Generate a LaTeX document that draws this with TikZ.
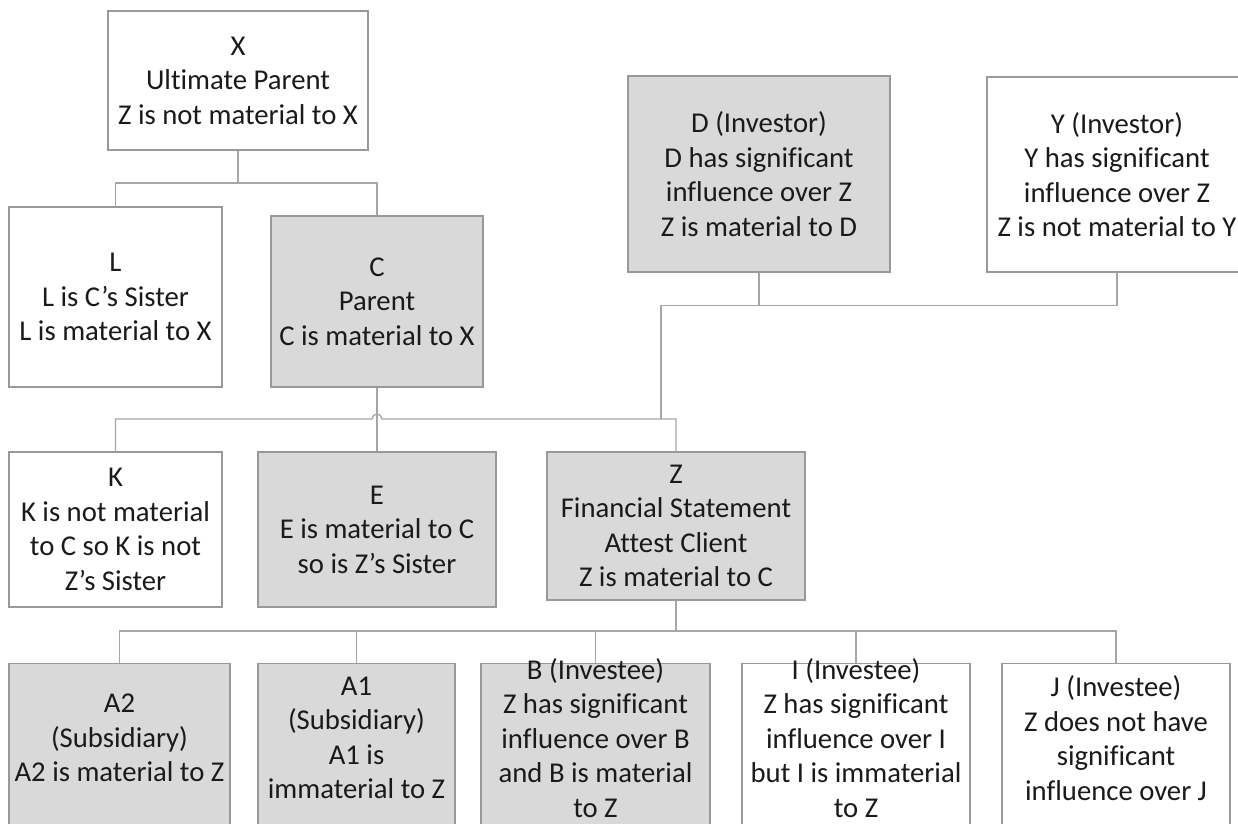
\documentclass[tikz,border=0pt]{standalone}
\usepackage{fontspec}
\setmainfont{Carlito}[Ligatures=NoCommon]

\definecolor{keygray}{HTML}{D9D9D9}
\definecolor{boxline}{HTML}{999999}
\definecolor{linkgray}{HTML}{A6A6A6}
\definecolor{inkblack}{HTML}{1A1A1A}

\tikzset{
  entity/.style={draw=boxline, line width=1.3pt, fill=white, align=center, text=inkblack,
    font=\fontsize{28.7}{34.5}\selectfont, inner sep=0pt},
  keyent/.style={entity, fill=keygray},
  caption/.style={align=center, text=inkblack, font=\fontsize{28.7}{34.5}\selectfont, inner sep=0pt},
  link/.style={draw=linkgray, line width=1.3pt}
}

\begin{document}
\begin{tikzpicture}[x=1pt, y=-1pt]
\useasboundingbox (0,0) rectangle (1238,823);
\clip (0,0) rectangle (1238,823);
% Ownership chain and investors
\node[entity, minimum width=260pt, minimum height=139pt] (X) at (238,80.5) {X\\Ultimate Parent\\Z is not material to X};
\node[entity, minimum width=213pt, minimum height=180pt] (L) at (115.5,297) {L\\L is C’s Sister\\L is material to X};
\node[keyent, minimum width=212pt, minimum height=171pt] (C) at (377,301.5) {C\\Parent\\C is material to X};
\node[keyent, minimum width=262pt, minimum height=196pt] (D) at (759,174) {D (Investor)\\D has significant\\influence over Z\\Z is material to D};
\node[entity, minimum width=260pt, minimum height=195pt] (Y) at (1117,174.5) {Y (Investor)\\Y has significant\\influence over Z\\Z is not material to Y};
\node[entity, minimum width=213pt, minimum height=155pt] (K) at (115.5,529.5) {K\\K is not material\\to C so K is not\\Z’s Sister};
\node[keyent, minimum width=238pt, minimum height=155pt] (E) at (377,529.5) {E\\E is material to C\\so is Z’s Sister};
\node[keyent, minimum width=258pt, minimum height=148pt] (Z) at (676,526) {Z\\Financial Statement\\Attest Client\\Z is material to C};
% Z's investees, boxes run off the bottom edge
\node[keyent, anchor=north, minimum width=221pt, minimum height=200pt] (A2) at (119.5,663) {};
\node[keyent, anchor=north, minimum width=197pt, minimum height=200pt] (A1) at (356.5,663) {};
\node[keyent, anchor=north, minimum width=229pt, minimum height=200pt] (B) at (595.5,663) {};
\node[entity, anchor=north, minimum width=228pt, minimum height=200pt] (I) at (856,663) {};
\node[entity, anchor=north, minimum width=228pt, minimum height=200pt] (J) at (1116,663) {};
\node[caption] (A2txt) at (119.5,738) {A2\\(Subsidiary)\\A2 is material to Z};
\node[caption] (A1txt) at (356.5,738) {A1\\(Subsidiary)\\A1 is\\immaterial to Z};
\node[caption] (Btxt) at (595.5,738) {B (Investee)\\Z has significant\\influence over B\\and B is material\\to Z};
\node[caption] (Itxt) at (856,738) {I (Investee)\\Z has significant\\influence over I\\but I is immaterial\\to Z};
\node[caption] (Jtxt) at (1116,738) {J (Investee)\\Z does not have\\significant\\influence over J};

% connectors
\coordinate (xbar) at (238,183);
\draw[link] (X.south) -- (xbar);
\draw[link] (L.north) |- (xbar) -| (C.north);
\coordinate (hop) at (377,419);
\draw[link] (C.south) -- (E.north);
\draw[link] (K.north) |- ([xshift=-5pt]hop) arc[start angle=180, end angle=360, radius=5] -| (Z.north);
\coordinate (dyin) at (661,419);
\draw[link] (D.south) -- ++(0,33);
\draw[link] (Y.south) -- ++(0,33) -| (dyin);
\coordinate (zbar) at (676,631);
\draw[link] (Z.south) -- (zbar);
\draw[link] (A2.north) |- (zbar) -| (J.north);
\foreach \n in {A1,B,I}
  \draw[link] (\n.north) -- (\n.north |- zbar);
\end{tikzpicture}
\end{document}
